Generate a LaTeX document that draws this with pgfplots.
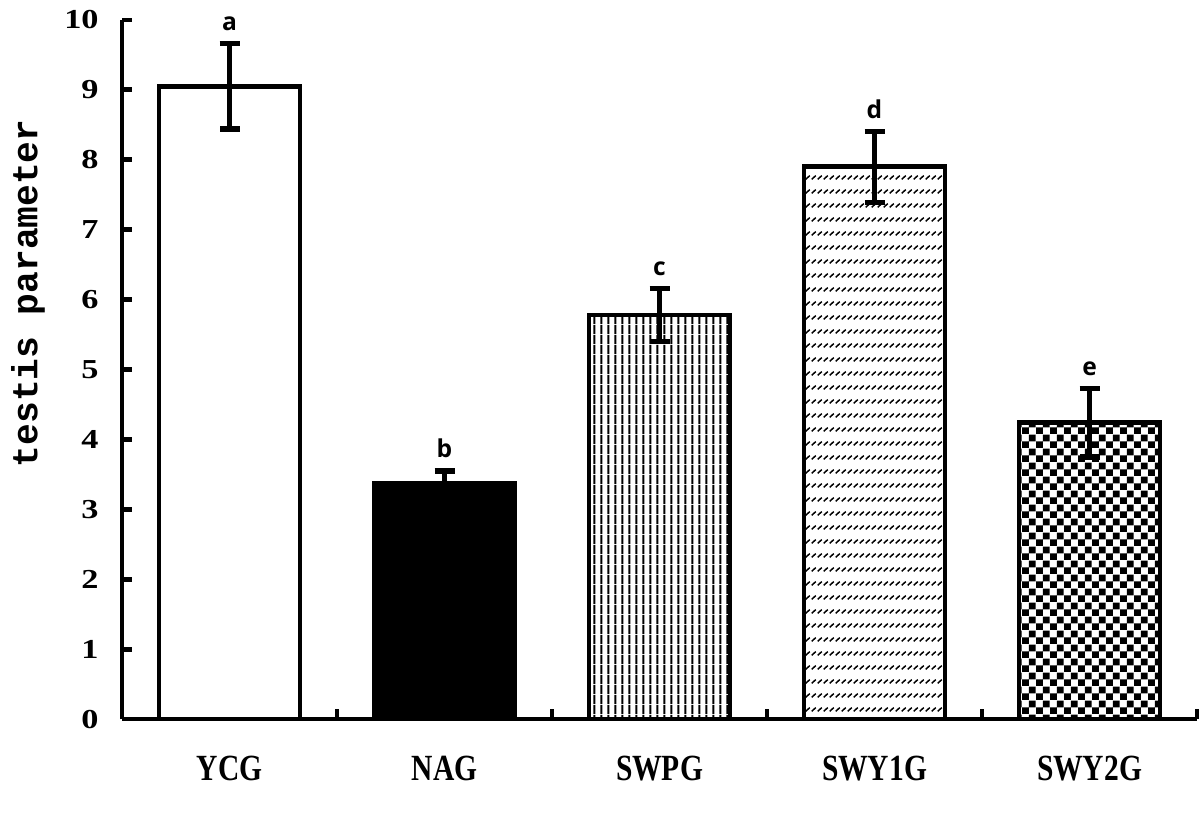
\documentclass[border=0pt]{standalone}
\usepackage{fontspec}
\setmainfont{Liberation Serif}
\newfontfamily\xlabfont{Liberation Serif}[FakeStretch=0.8]
\newfontfamily\ylabfont{Liberation Serif}[FakeStretch=1.25]
\newfontfamily\monofont{Liberation Mono}
\newfontfamily\letterfont{Open Sans}
\usepackage{pgfplots}
\pgfplotsset{compat=1.18}
\usetikzlibrary{patterns}

% fill patterns of the bars
\pgfdeclarepatternformonly{vlines}{\pgfpointorigin}{\pgfpoint{0.74mm}{1mm}}{\pgfpoint{0.74mm}{1mm}}{%
  \pgfpathrectangle{\pgfpoint{0.26mm}{0mm}}{\pgfpoint{0.2mm}{1mm}}%
  \pgfusepath{fill}}
\pgfdeclarepatternformonly{hatch}{\pgfpointorigin}{\pgfpoint{0.62mm}{1.4mm}}{\pgfpoint{0.62mm}{1.4mm}}{%
  \pgfsetlinewidth{0.16mm}%
  \pgfpathmoveto{\pgfpoint{0.08mm}{0.5mm}}%
  \pgfpathlineto{\pgfpoint{0.54mm}{0.9mm}}%
  \pgfusepath{stroke}}
\pgfdeclarepatternformonly{checker}{\pgfpointorigin}{\pgfpoint{1.42mm}{1.42mm}}{\pgfpoint{1.42mm}{1.42mm}}{%
  \pgfpathrectangle{\pgfpointorigin}{\pgfpoint{0.71mm}{0.71mm}}%
  \pgfpathrectangle{\pgfpoint{0.71mm}{0.71mm}}{\pgfpoint{0.71mm}{0.71mm}}%
  \pgfusepath{fill}}

\pgfplotsset{
  mybar/.style={ybar, bar width=14.1mm, bar shift=0pt, draw=black, line width=1.4pt,
    error bars/y dir=both, error bars/y explicit,
    error bars/error bar style={line width=1.5pt},
    error bars/error mark options={rotate=90, mark size=1mm, line width=1.5pt}},
}

\begin{document}
\begin{tikzpicture}
\begin{axis}[
  scale only axis,
  width=107.5mm, height=69.9mm,
  xmin=-0.5, xmax=4.5, ymin=0, ymax=10,
  axis x line*=bottom, axis y line*=left,
  axis line style={line width=1.4pt},
  xtick={-0.5,0.5,...,4.5},
  x tick label as interval,
  xticklabels={YCG,NAG,SWPG,SWY1G,SWY2G},
  ytick={0,1,...,10},
  tick align=inside,
  major tick length=1mm,
  tick style={line width=1.4pt, black},
  /pgf/number format/assume math mode=true,
  xticklabel style={font=\xlabfont\bfseries\fontsize{10.5}{12}\selectfont, yshift=-2.5mm},
  yticklabel style={font=\ylabfont\bfseries\fontsize{7.8}{9}\selectfont, xshift=-1.1mm},
  ylabel={testis parameter},
  ylabel style={font=\monofont\bfseries\fontsize{10.3}{12}\selectfont,
    at={(axis description cs:-0.0874,0.609)}, anchor=center},
]
% YCG
\addplot[mybar, fill=white] coordinates {(0,9.05) +- (0,0.61)};
% NAG
\addplot[mybar, fill=black] coordinates {(1,3.37) +- (0,0.18)};
% SWPG
\addplot[mybar, pattern=vlines] coordinates {(2,5.78) +- (0,0.38)};
% SWY1G
\addplot[mybar, pattern=hatch] coordinates {(3,7.90) +- (0,0.51)};
% SWY2G
\addplot[mybar, pattern=checker] coordinates {(4,4.24) +- (0,0.49)};
% significance letters
\addplot[draw=none, mark=none, nodes near coords, point meta=explicit symbolic,
  nodes near coords style={anchor=base, yshift=1.3mm, font=\letterfont\bfseries\fontsize{7}{8}\selectfont}]
  coordinates {(0,9.66)[a] (1,3.55)[b] (2,6.16)[c] (3,8.41)[d] (4,4.73)[e]};
\end{axis}
\pgfresetboundingbox
\path ([shift={(-12.2mm,-9.4mm)}]current axis.south west) rectangle ([shift={(0.3mm,2mm)}]current axis.north east);
\end{tikzpicture}
\end{document}
